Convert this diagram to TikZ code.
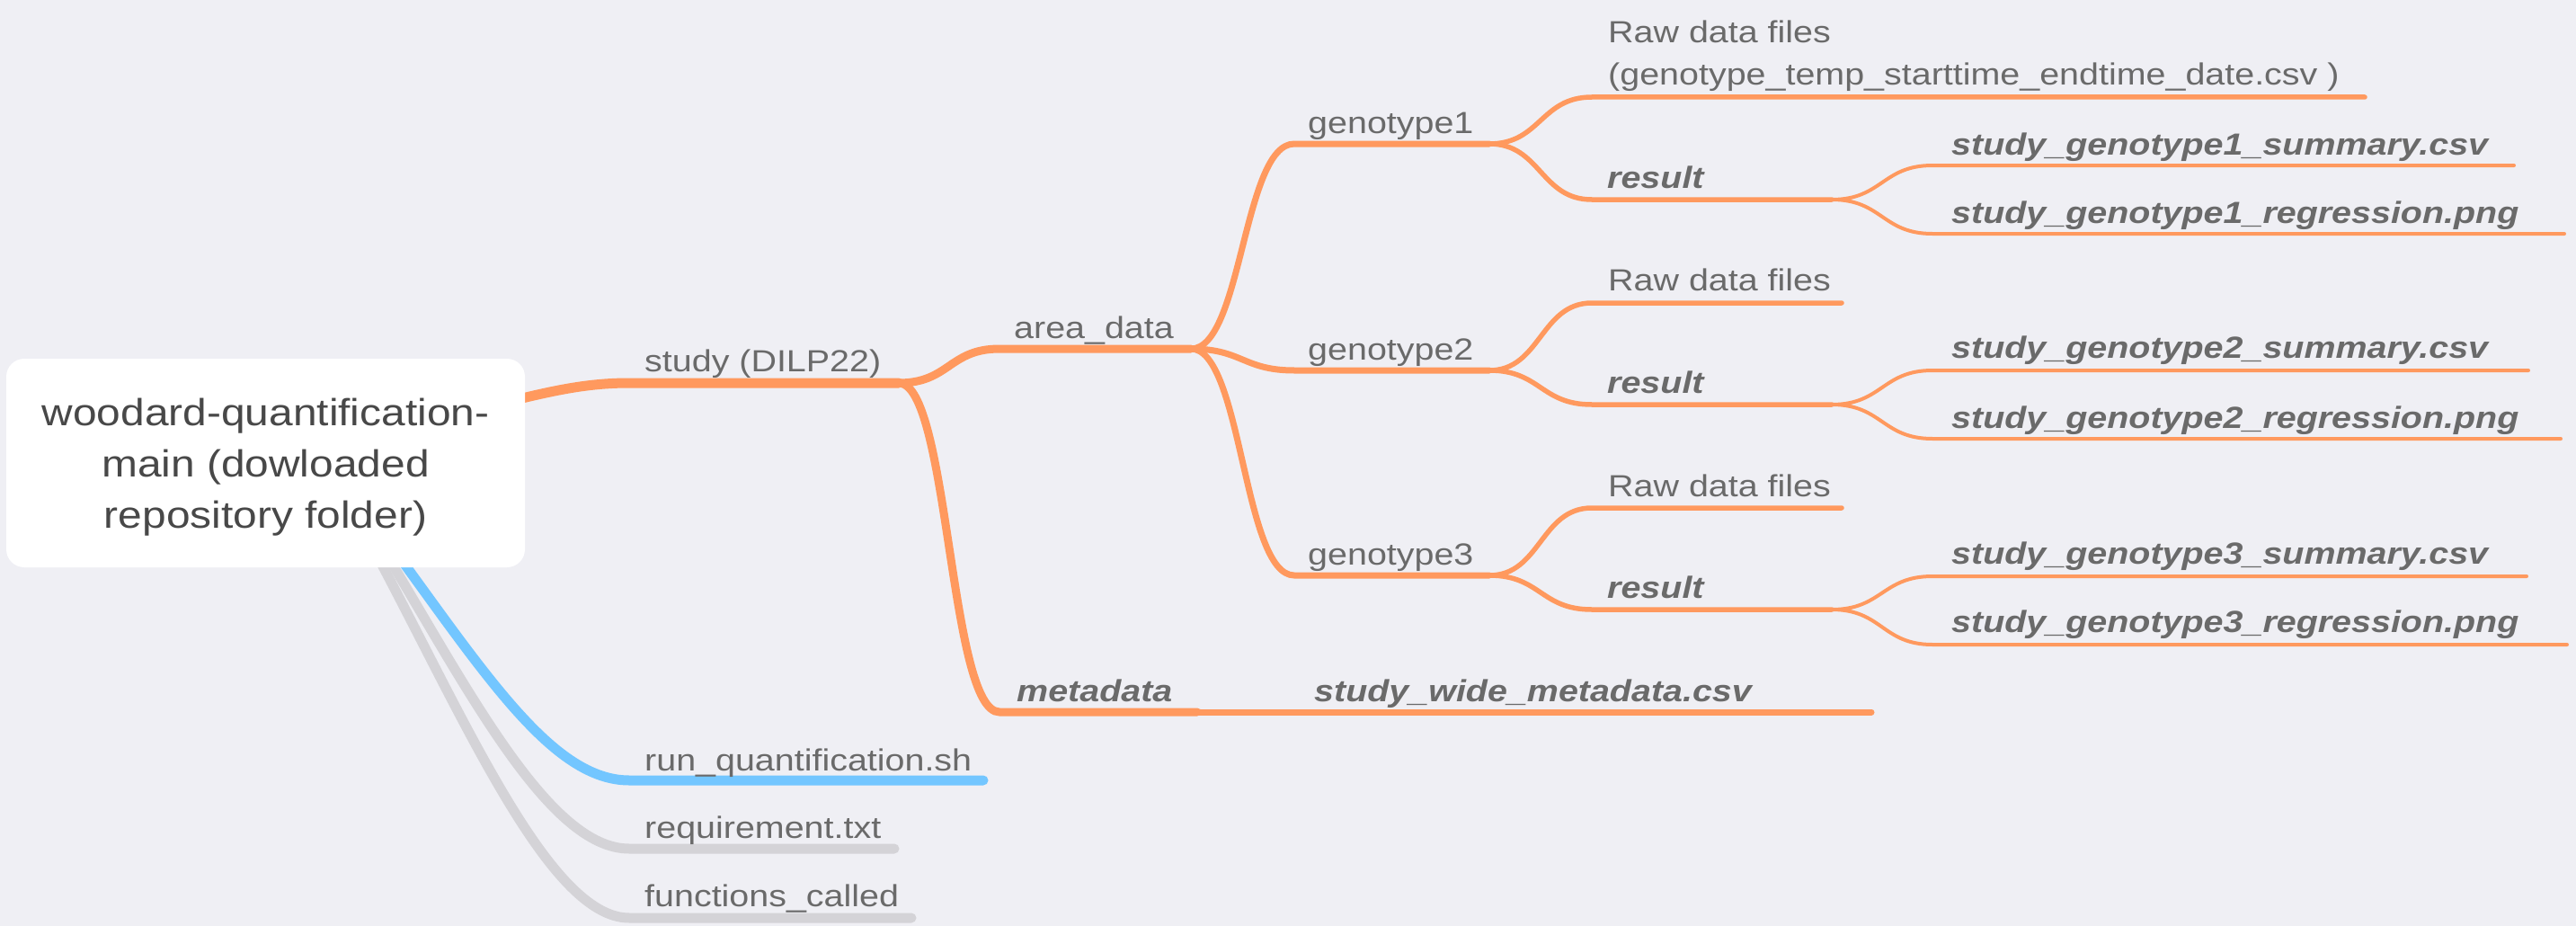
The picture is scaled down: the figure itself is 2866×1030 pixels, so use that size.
\documentclass[tikz,border=0pt]{standalone}
\usepackage{fontspec}
\setmainfont{Liberation Sans}[FakeStretch=1.16]
\newfontfamily\rootfont{Liberation Sans}[FakeStretch=1.14]
\definecolor{bg}{RGB}{239,239,244}
\definecolor{orng}{RGB}{255,153,94}
\definecolor{blu}{RGB}{115,198,255}
\definecolor{gry}{RGB}{212,211,215}
\definecolor{txtc}{RGB}{106,106,106}
\definecolor{roottxtc}{RGB}{72,72,72}
\tikzset{
  dA/.style={line width=11pt, line cap=round},
  dB/.style={line width=9pt, line cap=round},
  dC/.style={line width=7pt, line cap=round},
  dD/.style={line width=5.5pt, line cap=round},
  dE/.style={line width=4pt, line cap=round},
  lbl/.style={anchor=base west, inner sep=0pt, text=txtc, font=\fontsize{34}{41}\selectfont},
  blbl/.style={anchor=base west, inner sep=0pt, text=txtc, font=\fontsize{34}{41}\selectfont\bfseries\itshape},
  rootbox/.style={draw=none, fill=white, rounded corners=20pt, minimum width=577pt, minimum height=232pt, inner sep=0pt},
  rootlbl/.style={anchor=base, inner sep=0pt, text=roottxtc, font=\rootfont\fontsize{42}{57}\selectfont},
}
\begin{document}
\begin{tikzpicture}[x=1pt, y=-1pt]
\fill[bg] (0,0) rectangle (2866,1030);
\useasboundingbox (0,0) rectangle (2866,1030);

% line coordinates
\coordinate (rootO) at (560,448);
\coordinate (rootB) at (430,600);
\coordinate (rootG) at (420,600);
\coordinate (rootF) at (410,600);
\coordinate (studyA) at (700,426);  \coordinate (studyB) at (1000,426);
\coordinate (areaA) at (1112,388);  \coordinate (areaB) at (1325,388);
\coordinate (metaA) at (1112,792);  \coordinate (metaB) at (1332,792);
\coordinate (swmA) at (1445,792);   \coordinate (swmB) at (2082,792);
\coordinate (gAA) at (1440,160); \coordinate (gAB) at (1657,160);
\coordinate (gBA) at (1440,412); \coordinate (gBB) at (1657,412);
\coordinate (gCA) at (1440,640); \coordinate (gCB) at (1657,640);
\coordinate (rawAA) at (1771,108); \coordinate (rawAB) at (2631,108);
\coordinate (resAA) at (1771,222); \coordinate (resAB) at (2038,222);
\coordinate (rawBA) at (1771,337); \coordinate (rawBB) at (2049,337);
\coordinate (resBA) at (1771,450); \coordinate (resBB) at (2038,450);
\coordinate (rawCA) at (1771,565); \coordinate (rawCB) at (2049,565);
\coordinate (resCA) at (1771,678); \coordinate (resCB) at (2038,678);
\coordinate (sumAA) at (2150,184); \coordinate (sumAB) at (2797,184);
\coordinate (regAA) at (2150,260); \coordinate (regAB) at (2853,260);
\coordinate (sumBA) at (2150,412); \coordinate (sumBB) at (2813,412);
\coordinate (regBA) at (2150,488); \coordinate (regBB) at (2849,488);
\coordinate (sumCA) at (2150,641); \coordinate (sumCB) at (2811,641);
\coordinate (regCA) at (2150,717); \coordinate (regCB) at (2856,717);
\coordinate (runA) at (700,868);  \coordinate (runB) at (1094,868);
\coordinate (reqA) at (700,944);  \coordinate (reqB) at (995,944);
\coordinate (funA) at (700,1021); \coordinate (funB) at (1014,1021);

% root links (hidden start inside root box)
\draw[dA, gry] (rootF) .. controls (515,795) and (610,1021) .. (funA) -- (funB);
\draw[dA, gry] (rootG) .. controls (520,765) and (610,944) .. (reqA) -- (reqB);
\draw[dA, blu] (rootB) .. controls (540,750) and (615,868) .. (runA) -- (runB);
\draw[dA, orng] (rootO) .. controls (610,436) and (650,426) .. (studyA) -- (studyB);

% study children
\draw[dB, orng] (studyB) .. controls +(56,0) and +(-56,0) .. (areaA) -- (areaB);
\draw[dB, orng] (studyB) .. controls +(56,0) and +(-56,0) .. (metaA) -- (metaB);
\draw[dC, orng] (metaB) -- (swmA) -- (swmB);

% genotypes
\draw[dC, orng] (areaB) .. controls +(57,0) and +(-57,0) .. (gAA) -- (gAB);
\draw[dC, orng] (areaB) .. controls +(57,0) and +(-57,0) .. (gBA) -- (gBB);
\draw[dC, orng] (areaB) .. controls +(57,0) and +(-57,0) .. (gCA) -- (gCB);

% raw / result
\draw[dD, orng] (gAB) .. controls +(57,0) and +(-57,0) .. (rawAA) -- (rawAB);
\draw[dD, orng] (gAB) .. controls +(57,0) and +(-57,0) .. (resAA) -- (resAB);
\draw[dD, orng] (gBB) .. controls +(57,0) and +(-57,0) .. (rawBA) -- (rawBB);
\draw[dD, orng] (gBB) .. controls +(57,0) and +(-57,0) .. (resBA) -- (resBB);
\draw[dD, orng] (gCB) .. controls +(57,0) and +(-57,0) .. (rawCA) -- (rawCB);
\draw[dD, orng] (gCB) .. controls +(57,0) and +(-57,0) .. (resCA) -- (resCB);

% summary / regression
\draw[dE, orng] (resAB) .. controls +(56,0) and +(-56,0) .. (sumAA) -- (sumAB);
\draw[dE, orng] (resAB) .. controls +(56,0) and +(-56,0) .. (regAA) -- (regAB);
\draw[dE, orng] (resBB) .. controls +(56,0) and +(-56,0) .. (sumBA) -- (sumBB);
\draw[dE, orng] (resBB) .. controls +(56,0) and +(-56,0) .. (regBA) -- (regBB);
\draw[dE, orng] (resCB) .. controls +(56,0) and +(-56,0) .. (sumCA) -- (sumCB);
\draw[dE, orng] (resCB) .. controls +(56,0) and +(-56,0) .. (regCA) -- (regCB);

% root box
\node[rootbox] (root) at (295.5,515) {};
\node[rootlbl] (rootlabel) at (295.5,473) {\vtop{\halign{\hfil#\hfil\cr woodard-quantification-\cr main (dowloaded\cr repository folder)\cr}}};

% labels
\node[lbl] (study) at (717,413) {study (DILP22)};
\node[lbl] (area) at (1128,376) {area\_data};
\node[blbl] (meta) at (1131,780) {metadata};
\node[blbl] (swm) at (1462,780) {study\_wide\_metadata.csv};
\node[lbl] (gA) at (1455,148) {genotype1};
\node[lbl] (gB) at (1455,400) {genotype2};
\node[lbl] (gC) at (1455,628) {genotype3};
\node[lbl] (rawA) at (1789,48) {\fontsize{34}{47}\selectfont\vtop{\hbox{Raw data files}\hbox{(genotype\_temp\_starttime\_endtime\_date.csv )}}};
\node[blbl] (resA) at (1788,209) {result};
\node[lbl] (rawB) at (1789,323) {Raw data files};
\node[blbl] (resB) at (1788,437) {result};
\node[lbl] (rawC) at (1789,552) {Raw data files};
\node[blbl] (resC) at (1788,665) {result};
\node[blbl] (sumA) at (2171,172) {study\_genotype1\_summary.csv};
\node[blbl] (regA) at (2171,248) {study\_genotype1\_regression.png};
\node[blbl] (sumB) at (2171,398) {study\_genotype2\_summary.csv};
\node[blbl] (regB) at (2171,476) {study\_genotype2\_regression.png};
\node[blbl] (sumC) at (2171,627) {study\_genotype3\_summary.csv};
\node[blbl] (regC) at (2171,703) {study\_genotype3\_regression.png};
\node[lbl] (run) at (717,857) {run\_quantification.sh};
\node[lbl] (req) at (717,932) {requirement.txt};
\node[lbl] (fun) at (717,1008) {functions\_called};
\end{tikzpicture}
\end{document}
